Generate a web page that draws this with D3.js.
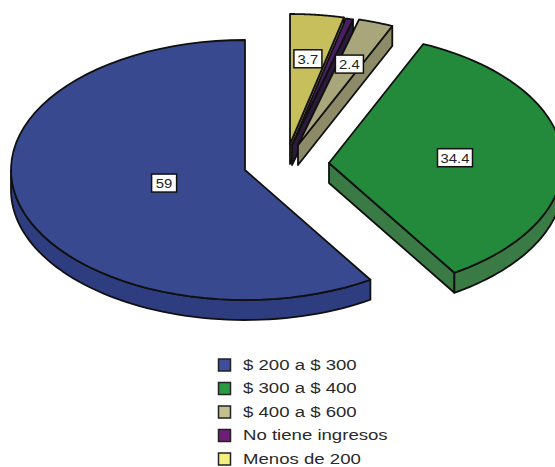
<!DOCTYPE html>
<html><head><meta charset="utf-8">
<script src="https://cdn.jsdelivr.net/npm/d3@7/dist/d3.min.js"></script>
<style>html,body{margin:0;padding:0;background:#fff}svg{display:block}text{font-family:"Liberation Sans",Arial,sans-serif}</style>
</head><body><svg id="c" width="555" height="467"></svg>
<script>
const categories = ["$ 200 a $ 300","$ 300 a $ 400","$ 400 a $ 600","No tiene ingresos","Menos de 200"];
const values = [59,34.4,2.4,0.5,3.7];
const labels = ["59","34.4","2.4",null,"3.7"];

// styling / layout
const topColors = ["#39498f","#228a3a","#a9a67c","#4a1f63","#c6bf5c"];
const sideColors = ["#2e3d80","#3a7a45","#8d8a68","#2c1a3a","#8f8a50"];
const legendColors = ["#3d4f9c","#2a9a42","#c4c08c","#6f1f78","#f2ee80"];
const origins = [[245,170],[329,163],[298,145],[292,145],[290,144]];
const labelFrac = [0.36,0.54,0.66,0,0.66];
const rx = 234, ry = 130, depth = 20;

const svg = d3.select("#c");
// slices run counter-clockwise from twelve o'clock
const pie = d3.pie().sort(null).value(d=>d).startAngle(2*Math.PI).endAngle(0);
const arcs = pie(values);
const pt = (o,a,f=1,dy=0)=>[o[0]+rx*f*Math.sin(a), o[1]-ry*f*Math.cos(a)+dy];
const samples = (o,a0,a1,dy=0)=>d3.range(0,61).map(i=>pt(o,a0+(a1-a0)*i/60,1,dy));
const line = d3.line();

const order = [4,3,2,1,0];
const g = svg.append("g").attr("stroke","#101010").attr("stroke-width",1.8).attr("stroke-linejoin","round");
order.forEach(i=>{
  const d = arcs[i], o = origins[i], a0 = d.startAngle, a1 = d.endAngle;
  // the cut face that looks toward the viewer (not on the big blue slice)
  if(i!==0){
    g.append("path").attr("fill",sideColors[i])
      .attr("d",line([o,pt(o,a0),pt(o,a0,1,depth),[o[0],o[1]+depth]])+"Z");
  }
  // outer wall: only the portion of the rim on the front half of the ellipse
  const hi = Math.min(a0,3*Math.PI/2), lo = Math.max(a1,Math.PI/2);
  if(hi>lo){
    const s = samples(o,hi,lo);
    const b = samples(o,lo,hi,depth);
    g.append("path").attr("fill",sideColors[i]).attr("d",line(s.concat(b))+"Z");
  }
  g.append("path").attr("fill",topColors[i]).attr("d",line([o].concat(samples(o,a0,a1)))+"Z");
});

// value labels
arcs.forEach((d,i)=>{
  if(labels[i]===null) return;
  const [x,y] = pt(origins[i],(d.startAngle+d.endAngle)/2,labelFrac[i]);
  const w = labels[i].length>2?(labels[i].length>3?35:28):25;
  svg.append("rect").attr("x",x-w/2).attr("y",y-9).attr("width",w).attr("height",18)
    .attr("fill","#fff").attr("stroke","#111").attr("stroke-width",1.5);
  svg.append("text").attr("transform",`translate(${x},${y+5}) scale(1.1,1)`).attr("text-anchor","middle")
    .attr("font-size",13.5).attr("fill","#222").text(labels[i]);
});

// legend
const ly = d3.scalePoint().domain(categories).range([365,459]);
categories.forEach((c,i)=>{
  svg.append("rect").attr("x",218.5).attr("y",ly(c)-6).attr("width",12).attr("height",12)
    .attr("fill",legendColors[i]).attr("stroke","#222").attr("stroke-width",1.5);
  svg.append("text").attr("transform",`translate(243,${ly(c)+4.5}) scale(1.2,1)`)
    .attr("font-size",15.5).attr("fill","#2a2a2a").text(c);
});
</script></body></html>
